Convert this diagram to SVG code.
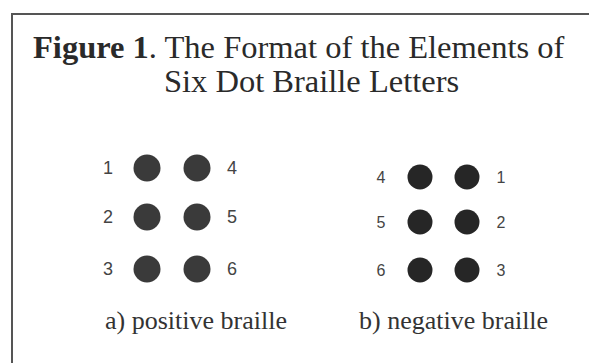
<svg xmlns="http://www.w3.org/2000/svg" width="589" height="363" viewBox="0 0 589 363">
<style>
.title{font-family:"Liberation Serif","Times New Roman",serif;font-size:32.5px;fill:#2a2a2a}
.cap{font-family:"Liberation Serif","Times New Roman",serif;font-size:26px;fill:#333}
.num{font-family:"Liberation Sans",Arial,sans-serif;fill:#444}
.pos .num{font-size:18px}
.neg .num{font-size:16px}
.pd{fill:#3a3a3a}
.nd{fill:#262626}
</style>
<rect width="589" height="363" fill="#fff"/>
<g id="frame" fill="none" stroke="#555" stroke-width="2">
<path d="M589,14 H12 V363"/>
</g>
<g id="title">
<text class="title" x="33" y="58"><tspan font-weight="bold">Figure 1</tspan>. The Format of the Elements of</text>
<text class="title" x="164" y="92">Six Dot Braille Letters</text>
</g>
<g id="positive" class="pos">
<circle class="pd" cx="147" cy="168" r="13.5"/>
<circle class="pd" cx="197" cy="168" r="13.5"/>
<circle class="pd" cx="147" cy="217" r="13.5"/>
<circle class="pd" cx="197" cy="217" r="13.5"/>
<circle class="pd" cx="147" cy="269" r="13.5"/>
<circle class="pd" cx="197" cy="269" r="13.5"/>
<text class="num" x="108" y="174" text-anchor="middle">1</text>
<text class="num" x="108" y="223" text-anchor="middle">2</text>
<text class="num" x="108" y="275" text-anchor="middle">3</text>
<text class="num" x="232" y="174" text-anchor="middle">4</text>
<text class="num" x="232" y="223" text-anchor="middle">5</text>
<text class="num" x="232" y="275" text-anchor="middle">6</text>
</g>
<g id="negative" class="neg">
<circle class="nd" cx="420" cy="177" r="12.5"/>
<circle class="nd" cx="467" cy="177" r="12.5"/>
<circle class="nd" cx="420" cy="222" r="12.5"/>
<circle class="nd" cx="467" cy="222" r="12.5"/>
<circle class="nd" cx="420" cy="270" r="12.5"/>
<circle class="nd" cx="467" cy="270" r="12.5"/>
<text class="num" x="381" y="183" text-anchor="middle">4</text>
<text class="num" x="381" y="228" text-anchor="middle">5</text>
<text class="num" x="381" y="276" text-anchor="middle">6</text>
<text class="num" x="501" y="183" text-anchor="middle">1</text>
<text class="num" x="501" y="228" text-anchor="middle">2</text>
<text class="num" x="501" y="276" text-anchor="middle">3</text>
</g>
<g id="captions">
<text class="cap" x="105" y="329">a) positive braille</text>
<text class="cap" x="359" y="329">b) negative braille</text>
</g>
</svg>
